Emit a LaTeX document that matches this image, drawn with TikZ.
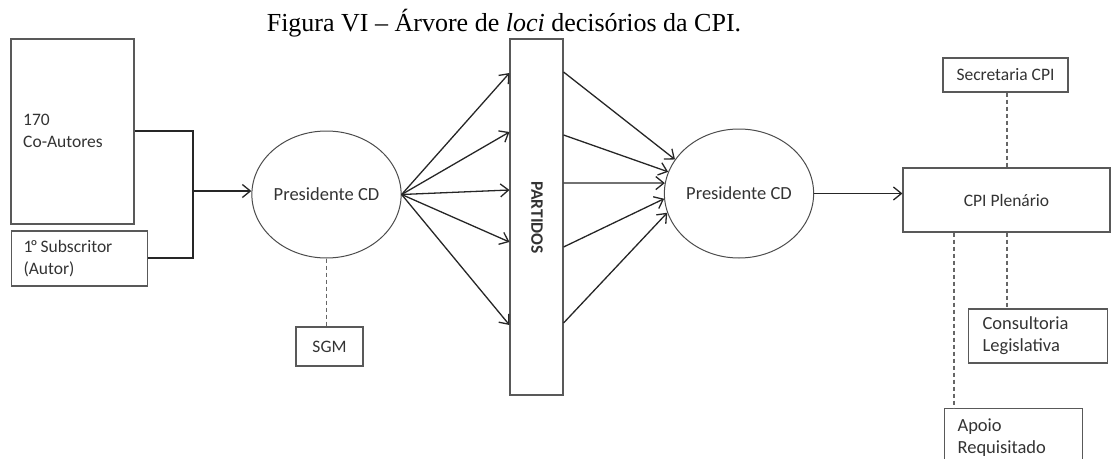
\documentclass[tikz,border=0pt]{standalone}
\usepackage{fontspec}
\setmainfont{Carlito}
\newfontfamily\titlefont{Liberation Serif}
\usetikzlibrary{shapes.geometric,arrows.meta}
\begin{document}
\begin{tikzpicture}[x=1pt,y=-1pt,
  txt/.style={font=\fontsize{17.5}{21.5}\selectfont, text=black!80},
  bigtxt/.style={font=\fontsize{18.5}{22}\selectfont},
  box/.style={txt, draw=black!65, line width=1.1pt, rectangle, inner sep=0pt},
  oval/.style={txt, bigtxt, draw=black!70, line width=1pt, ellipse, inner sep=0pt},
  conn/.style={draw=black!85, line width=1.3pt},
  arr/.style={conn, -{Straight Barb[length=8pt,width=13pt]}},
  dsh/.style={draw=black!60, line width=1.1pt, dash pattern=on 4pt off 3pt}]
\clip (0,0) rectangle (1111,458);
\useasboundingbox (0,0) rectangle (1111,458);

% title
\node[anchor=base, font=\titlefont\fontsize{26}{30}\selectfont, inner sep=0pt] (title) at (504,31)
  {Figura VI – Árvore de \textit{loci} decisórios da CPI.};

% left boxes
\node[box, minimum width=123pt, minimum height=185pt] (coa) at (72.5,131.5) {};
\node[txt, anchor=west, align=left, inner sep=0pt] (coatxt) at (23,131) {170\\Co-Autores};
\node[box, minimum width=125pt, minimum height=55pt, align=left, anchor=west, text width=112pt, inner xsep=12pt] (sub) at (11,258.5) {1\kern-2ptº\kern-3pt\ Subscritor\\(Autor)};

% first ellipse
\node[oval, minimum width=149pt, minimum height=127pt] (e1) at (326.5,194.5) {Presidente CD};
\node[box, minimum width=67pt, minimum height=39pt] (sgm) at (329.5,346.5) {SGM};

% partidos bar
\node[box, minimum width=53pt, minimum height=356pt] (bar) at (536.5,217) {};
\node[txt, font=\fontsize{17.5}{21}\selectfont\bfseries, rotate=-90, inner sep=0pt] (partxt) at (537,217.5) {PARTIDOS};

% second ellipse
\node[oval, minimum width=148pt, minimum height=129pt] (e2) at (739,193.5) {Presidente CD};

% right boxes
\node[box, minimum width=207pt, minimum height=64pt] (cpi) at (1006.5,200) {CPI Plenário};
\node[box, minimum width=125pt, minimum height=34pt] (sec) at (1005.5,75) {Secretaria CPI};
\node[box, bigtxt, minimum width=125pt, minimum height=54pt, align=left, anchor=west, text width=111pt, inner xsep=14pt] (cons) at (968,336) {Consultoria\\Legislativa};
\node[box, bigtxt, minimum width=125pt, minimum height=58pt, anchor=north west, align=left, text width=112pt, inner xsep=13pt] (apoio) at (944,408) {Apoio\\Requisitado};

% left connectors
\coordinate (j) at (193,191);
\draw[conn] (coa.east |- 0,131) -| (j);
\draw[conn] (sub.east |- 0,258) -| (j);
\draw[arr] (j) -- (e1.west |- j);

% e1 to bar
\foreach \yy in {73,132,190,242,325}
  \draw[arr] (e1.east) -- (bar.west |- 0,\yy);

% bar to e2
\draw[arr] (bar.east |- 0,72) -- (e2.152);
\draw[arr] (bar.east |- 0,135) -- (e2.163);
\draw[arr] (bar.east |- 0,183) -- (e2.172);
\draw[arr] (bar.east |- 0,247) -- (e2.184);
\draw[arr] (bar.east |- 0,323) -- (e2.195.5);

% e2 to cpi
\draw[arr] (e2.east) -- (e2.east -| cpi.west);

% dashed
\draw[dsh] (e1.south) -- (e1.south |- sgm.north);
\draw[dsh] (sec.south -| 1007,0) -- (cpi.north -| 1007,0);
\draw[dsh] (cpi.south -| 1007,0) -- (cons.north -| 1007,0);
\draw[dsh] (cpi.south -| 954,0) -- (apoio.north -| 954,0);
\end{tikzpicture}
\end{document}
